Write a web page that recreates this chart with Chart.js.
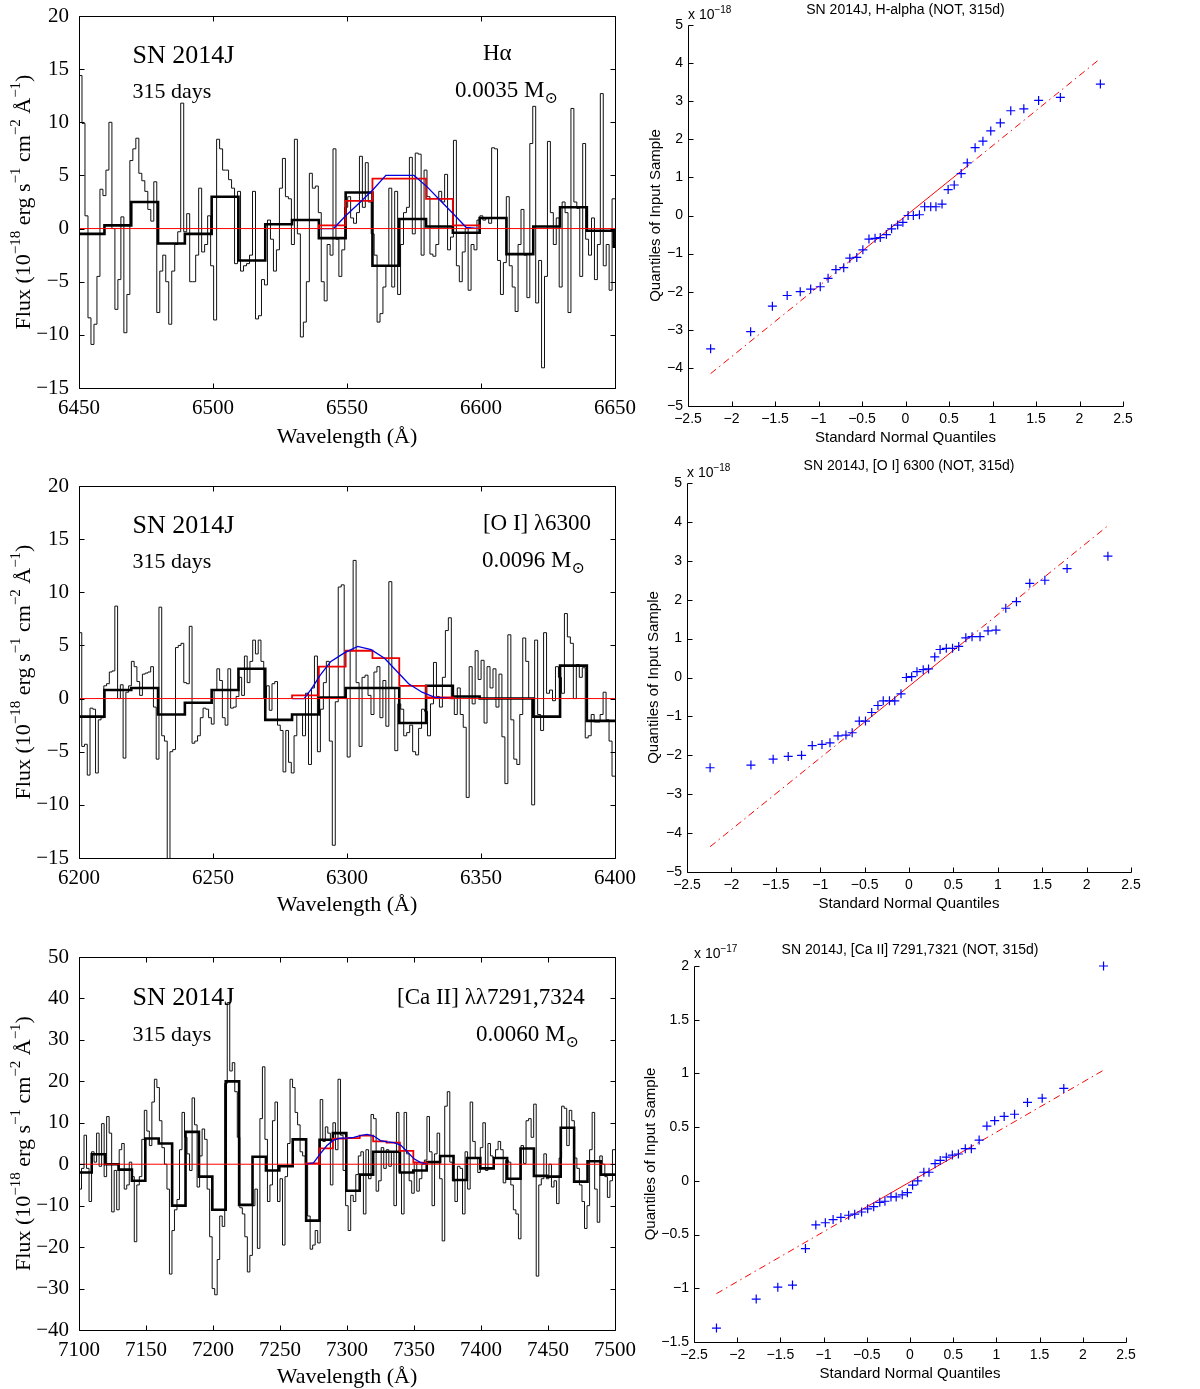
<!DOCTYPE html>
<html>
<head>
<meta charset="utf-8">
<script src="https://cdn.jsdelivr.net/npm/chart.js@4.4.1/dist/chart.umd.min.js"></script>
<style>
  body { margin: 0; background: #fff; }
  #page { position: relative; width: 1200px; height: 1389px; overflow: hidden; background: #fff; }
  canvas { position: absolute; }
</style>
</head>
<body>
<div id="page">
  <canvas id="haSpec" width="650" height="460" style="left:0;top:0"></canvas>
  <canvas id="oiSpec" width="650" height="460" style="left:0;top:470px"></canvas>
  <canvas id="caSpec" width="650" height="454" style="left:0;top:935px"></canvas>
  <canvas id="haQQ" width="570" height="450" style="left:630px;top:0"></canvas>
  <canvas id="oiQQ" width="570" height="480" style="left:630px;top:450px"></canvas>
  <canvas id="caQQ" width="570" height="454" style="left:630px;top:935px"></canvas>
</div>
<script>
// ---------- H-alpha window (6450-6650 A), flux in 1e-18 ----------
const haThinA = [14.4, 9.9, 1.2, -8.4, -10.9, -9.0, -4.5, 3.7, 3.1, 5.5, 10.0, 0.0, -7.6, -4.8, 1.1, -9.8, -6.2, 6.4, 7.5, 8.5,
  5.2, 4.5, 3.5, 1.8, 0.7, 4.4, -7.9, -4.0, -2.5, -5.0, -9.0, -4.0, -1.5, -0.3, 11.8, -0.3, 1.4, -5.0, -5.0, -2.5,
  3.8, -2.2, -1.5, 1.2, -3.5, -8.6, 8.4, 7.5, 5.5, 5.5, 4.6, 3.8, -3.3, 3.5, -4.0, -3.5, -3.3, -2.5, 3.5, -8.5,
  -8.2, -4.8, -5.3, 0.8, -1.0, -4.0, -2.0, 3.8, 6.6, 3.0, 2.8, -1.5, 8.4, -0.5, -10.2, -8.8, -5.0, 5.2, 3.8, 4.0];
const haThinB = [1.5, -5.0, -6.8, -1.5, -2.5, 7.5, -1.0, -4.5, -2.0, 2.0, 3.0, 1.0, 0.5, 1.5, 6.8, 2.0, 6.2, 2.5, -0.5, -2.5,
  -8.8, -8.0, -5.5, -3.5, 3.8, -5.5, 3.5, -6.2, -1.5, 1.5, 2.0, 6.7, -0.5, 7.1, 7.0, -2.5, 5.5, 3.0, -2.4, -2.6,
  -1.5, 3.5, 2.5, 5.1, -2.0, -0.8, 8.3, -3.5, -5.0, -2.2, 0.0, -5.8, -1.5, -2.0, 0.8, 1.2, 0.8, 1.0, 0.5, 7.6,
  7.5, -3.0, -6.2, -3.2, 3.0, -3.5, -5.5, -7.8, -1.5, 1.8, -2.5, -6.5, 8.0, 11.5, -7.0, -3.0, -13.1, -4.5, 8.2, 1.5,
  -1.5, 1.0, -5.5, 2.5, 1.5, -7.9, 11.3, 2.5, 1.9, -4.5, 8.0, -1.0, -2.5, 1.0, -4.8, -1.5, 12.7, -3.5, -1.5, -5.8, 2.8];
const haBinEdges = [6450, 6459.5, 6469.5, 6479.5, 6489.5, 6499.5, 6509.5, 6519.5, 6529.5, 6539.5, 6549.5,
  6559.5, 6569.5, 6579.5, 6589.5, 6599.5, 6609.5, 6619.5, 6629.5, 6639.5, 6649.5, 6650];
const haBinFlux = [-0.5, 0.3, 2.5, -1.4, -0.5, 3.0, -3.0, 0.4, 0.8, -0.9, 3.4, -3.5, 0.9, 0.2, -0.4, 1.0, -2.4, 0.2, 2.0, -0.2, -1.7];
const haModelEdges = [6539.5, 6549.5, 6559.5, 6569.5, 6579.5, 6589.5, 6599.5];
const haModelFlux = [0.3, 2.6, 4.7, 4.7, 2.8, 0.3];
const haSmoothX = [6539.5, 6545, 6549.5, 6555, 6559.5, 6564.5, 6575, 6580, 6585, 6590, 6594.5, 6599.5];
const haSmoothY = [0, 0, 1.2, 2.5, 3.6, 5.0, 5.0, 3.9, 2.6, 1.3, 0.1, 0];

// ---------- [O I] 6300 window (6200-6400 A) ----------
const oiThinA = [6.2, -4.5, -4.3, -7.2, -0.9, -1.0, -7.0, -2.0, -1.8, 1.2, 1.4, 2.5, 2.6, 8.7, 0.0, 1.3, -5.6, 0.6, 1.2, 3.5,
  3.0, 1.6, 0.3, 2.3, 2.4, 2.5, 3.0, -0.8, -5.7, 8.6, -3.5, -4.0, -16.0, -5.0, -4.8, 4.8, 5.0, 5.2, 1.5, 1.4,
  6.8, -4.2, -4.0, -3.5, -1.8, -0.9, -1.0, -1.8, -2.4, 0.8, 2.8, 1.7, -1.8, -2.5, 2.8, -0.9, -0.8, 0.2, 2.0, 0.3,
  4.0, 1.5, 3.5, 5.5, 4.2, 5.5, 3.5, 0.0, 1.2, -1.1, 1.4, 1.6, -2.5, -3.0, -6.9, -3.0, -6.0, -7.0, -3.5, -1.5];
const oiThinB = [-1.5, -3.5, 0.5, -6.2, 1.0, 4.0, -5.0, -1.0, 1.5, 3.5, -4.0, -13.8, -0.3, 10.5, 10.7, 0.0, -5.5, 4.5, 13.0, 1.5,
  -4.5, 2.0, 2.2, 0.3, -1.5, 2.5, 3.0, -1.8, 1.7, -2.6, 11.0, 1.0, -4.9, -0.5, -1.0, -3.5, -3.2, -2.5, -5.0, -5.3,
  -2.8, -1.0, -1.2, -3.5, -0.5, 3.4, 0.2, -0.8, 2.0, 6.4, 7.6, 0.0, -1.5, 1.0, -1.5, -2.7, -9.3, 3.0, -0.5, 4.5,
  1.8, 3.6, -2.3, 3.0, 1.0, 2.8, -0.8, 2.3, -3.6, -8.0, 6.0, -2.0, -5.7, -6.2, -1.5, 5.7, 3.5, 0.0, -10.0, 5.5,
  -1.5, -3.0, 6.2, 0.5, 0.8, -0.2, 3.0, 2.0, 0.5, 8.0, 5.8, 5.2, 0.0, 3.2, 2.0, 2.9, -3.7, -3.5, -1.5, -2.2,
  -2.2, -1.5, 0.6, -2.0, -4.0, -7.3];
const oiBinEdges = [6200, 6209.5, 6219.5, 6229.5, 6239.5, 6249.5, 6259.5, 6269.5, 6279.5, 6289.5, 6299.5,
  6309.5, 6319.5, 6329.5, 6339.5, 6349.5, 6359.5, 6369.5, 6379.5, 6389.5, 6400];
const oiBinFlux = [-1.7, 0.8, 1.0, -1.5, -0.4, 0.8, 2.8, -2.0, -1.5, 0.1, 1.0, 1.0, -2.3, 1.2, 0.2, 0.0, 0.0, -1.7, 3.1, -2.1];
const oiModelEdges = [6279.5, 6289.5, 6299.5, 6309.5, 6319.5, 6329.5, 6339.5];
const oiModelFlux = [0.3, 3.0, 4.5, 3.8, 1.2, 0.1];
const oiSmoothX = [6279.5, 6284, 6287, 6290, 6294, 6299, 6304, 6309, 6314, 6317, 6320, 6323, 6328, 6333, 6339.5];
const oiSmoothY = [0, 0, 1.0, 2.2, 3.5, 4.3, 4.9, 4.6, 3.8, 3.0, 2.2, 1.4, 0.6, 0.1, 0];

// ---------- [Ca II] 7291,7324 window (7100-7500 A) ----------
const caThinA = [-6.0, -1.0, 7.0, -1.0, -9.0, 3.0, 0.5, 7.5, -0.5, 9.8, -3.0, 11.5, 7.5, -11.5, -1.5, -11.0, 3.5, 5.0, -6.0, -5.0,
  0.5, -3.0, -18.7, -5.0, -3.0, 6.0, 13.0, 8.0, 4.5, 15.0, 20.5, 18.5, 10.5, 4.0, 0.0, -6.0, -26.5, -16.0, -11.0, -8.5,
  3.5, 12.5, 6.5, 2.5, -1.5, 16.0, 9.5, -5.5, 2.0, 8.5, 6.0, -6.0, -17.5, -30.0, -31.5, -23.0, -12.5, -15.0, 19.5, 39.0,
  22.5, 24.5, 17.5, 6.5, -10.5, -12.0, -17.5, -26.0, -22.0, -10.0, -6.0, -20.3, 11.0, 23.5, 6.0, -9.0, -5.0, 10.5, 15.0, -9.0,
  -3.5, -19.5, -3.0, 5.0, 20.5, 18.5, 12.5, 9.5, 3.0, 2.0, 0.0, -12.5, -20.5, -19.5, -16.0, -19.0];
const caThinB = [15.6, 5.5, 9.0, 7.5, -5.0, 10.0, 3.5, 20.5, 7.0, -1.5, -10.0, -16.0, -7.5, -9.0, -2.5, 2.0, 3.0, -12.0, 3.5, -3.5,
  12.0, 11.0, -6.5, -4.0, 4.0, -1.0, 3.5, -0.5, 3.0, -10.0, 12.5, -2.0, -12.0, 12.5, 2.5, -4.0, -7.0, 0.5, -6.5, -3.5,
  0.0, 1.0, 11.5, 3.0, -10.0, 2.5, 7.5, -3.5, -18.5, 14.0, 17.5, 0.5, -4.0, -9.0, -0.5, -1.0, -12.0, 3.0, -6.0, 15.0,
  5.5, 1.5, -2.0, 4.0, 10.0, -1.5, 5.0, 2.0, 1.5, 3.5, 5.5, 3.5, -4.5, 1.0, 0.5, -5.0, -11.0, -12.0, -18.0, 4.5,
  0.2, 10.5, 11.0, 6.5, 14.5, -27.0, -5.0, -3.5, 2.5, -3.5, 0.0, -5.5, -4.0, -9.5, 1.5, 14.0, 13.5, 4.5, 13.0, 10.5,
  1.5, -1.0, -5.0, -9.0, -15.5, -10.0, 3.5, 12.5, -6.0, -14.0, 2.0, 0.0, -3.0, -8.0, -4.0, 3.5];
const caBinEdges = [7100, 7109.5, 7119.5, 7129.5, 7139.5, 7149.5, 7159.5, 7169.5, 7179.5, 7189.5, 7199.5,
  7209.5, 7219.5, 7229.5, 7239.5, 7249.5, 7259.5, 7269.5, 7279.5, 7289.5, 7299.5,
  7309.5, 7319.5, 7329.5, 7339.5, 7349.5, 7359.5, 7369.5, 7379.5, 7389.5, 7399.5,
  7409.5, 7419.5, 7429.5, 7439.5, 7449.5, 7459.5, 7469.5, 7479.5, 7489.5, 7500];
const caBinFlux = [-2.0, 2.4, 0.0, -1.3, -4.0, 6.2, 5.0, -10.0, 7.8, -3.0, -11.0, 20.0, -9.8, 1.8, -1.5, -0.5, 6.0, -13.6, 5.9, 7.5,
  -6.4, -2.5, 3.0, 3.0, -2.0, -1.5, 0.5, 2.0, -3.8, 1.5, -1.0, 1.5, -3.5, 3.8, -2.8, -3.0, 8.8, -4.2, 0.7, -2.5];
const caModelEdges = [7269.5, 7279.5, 7289.5, 7299.5, 7309.5, 7319.5, 7329.5, 7339.5, 7349.5, 7359.5];
const caModelFlux = [0.2, 3.8, 6.2, 6.3, 6.9, 5.5, 5.2, 3.2, 0.4];
const caSmoothX = [7269.5, 7275, 7280, 7285, 7290, 7295, 7300, 7305, 7310, 7315, 7320, 7325, 7330, 7335, 7340, 7345, 7350, 7355, 7359.5];
const caSmoothY = [0, 0.3, 2.5, 4.5, 5.8, 6.3, 6.3, 6.5, 6.9, 7.2, 6.8, 5.7, 5.4, 5.2, 4.6, 3.0, 1.3, 0.4, 0];

// ---------- Q-Q plots ----------
const qqX = [-2.24, -1.78, -1.53, -1.36, -1.21, -1.09, -0.98, -0.89, -0.80, -0.71, -0.64, -0.56, -0.49, -0.42, -0.35, -0.29, -0.22, -0.16, -0.09, -0.03,
  0.03, 0.09, 0.16, 0.22, 0.29, 0.35, 0.42, 0.49, 0.56, 0.64, 0.71, 0.80, 0.89, 0.98, 1.09, 1.21, 1.36, 1.53, 1.78, 2.24];
const haQQ = [-3.5, -3.05, -2.38, -2.1, -2.0, -1.93, -1.87, -1.65, -1.42, -1.37, -1.12, -1.1, -0.9, -0.62, -0.6, -0.58, -0.5, -0.35, -0.25, -0.18,
  0.0, 0.0, 0.02, 0.23, 0.23, 0.23, 0.3, 0.68, 0.8, 1.1, 1.38, 1.78, 1.95, 2.22, 2.43, 2.75, 2.8, 3.02, 3.1, 3.45];
const oiQQ = [-2.32, -2.25, -2.1, -2.03, -2.0, -1.75, -1.72, -1.68, -1.5, -1.48, -1.42, -1.12, -1.12, -0.9, -0.72, -0.6, -0.6, -0.6, -0.42, 0.0,
  0.02, 0.15, 0.2, 0.22, 0.53, 0.72, 0.75, 0.75, 0.8, 1.02, 1.05, 1.05, 1.2, 1.22, 1.78, 1.95, 2.42, 2.5, 2.8, 3.12];
const caQQ = [-1.37, -1.1, -0.99, -0.97, -0.63, -0.41, -0.39, -0.36, -0.34, -0.32, -0.31, -0.29, -0.26, -0.24, -0.2, -0.19, -0.15, -0.15, -0.13, -0.11,
  -0.04, 0.0, 0.08, 0.08, 0.16, 0.19, 0.22, 0.24, 0.25, 0.3, 0.3, 0.38, 0.51, 0.56, 0.6, 0.62, 0.73, 0.77, 0.86, 2.0];
const fitX = [-2.24, -0.67, 0.67, 2.24];
const haFitY = [-4.15, -1.25, 1.22, 4.12];
const oiFitY = [-4.35, -1.46, 1.01, 3.9];
const caFitY = [-1.05, -0.32, 0.30, 1.03];

const serif = '"Liberation Serif", "DejaVu Serif", serif';
const sans = '"Liberation Sans", Arial, sans-serif';
Chart.defaults.color = '#000';
Chart.defaults.animation = false;

function minus(v) {
  return String(Math.round(v * 100) / 100).replace('-', '\u2212');
}

// spectrum pieces: each array spans [lo, hi] on an even pixel grid
function thinPoints(pieces) {
  const pts = [];
  pieces.forEach(([lo, hi, vals]) => {
    const step = (hi - lo) / vals.length;
    vals.forEach((v, i) => pts.push({ x: lo + i * step, y: v }));
    pts.push({ x: hi, y: vals[vals.length - 1] });
  });
  return pts;
}
function binPoints(edges, vals, closed) {
  const pts = vals.map((v, i) => ({ x: edges[i], y: v }));
  pts.push({ x: edges[edges.length - 1], y: vals[vals.length - 1] });
  if (closed) {
    pts.unshift({ x: edges[0], y: 0 });
    pts.push({ x: edges[edges.length - 1], y: 0 });
  }
  return pts;
}
function xyPoints(xs, ys) {
  return xs.map((x, i) => ({ x: x, y: ys[i] }));
}

function drawRich(ctx, it, x, y) {
  const size = it.size, fam = it.family;
  const small = Math.round(size * 0.68);
  const parts = it.parts.map(p => typeof p === 'string' ? { t: p, k: '' } : { t: p[0], k: p[1] });
  ctx.save();
  ctx.translate(x, y);
  if (it.rotate) ctx.rotate(-Math.PI / 2);
  ctx.textBaseline = 'alphabetic';
  ctx.fillStyle = '#000';
  let w = 0;
  parts.forEach(p => { ctx.font = (p.k ? small : size) + 'px ' + fam; p.w = ctx.measureText(p.t).width; w += p.w; });
  let cx = it.align === 'center' ? -w / 2 : (it.align === 'right' ? -w : 0);
  const base = size * 0.35;
  parts.forEach(p => {
    ctx.font = (p.k ? small : size) + 'px ' + fam;
    const dy = p.k === 'sup' ? -size * 0.42 : (p.k === 'sub' ? size * 0.25 : 0);
    ctx.fillText(p.t, cx, base + dy);
    cx += p.w;
  });
  ctx.restore();
}

// texts placed either in data units (at) or relative to the plot area (area)
function textPlugin(items) {
  return {
    id: 'panelText',
    afterDraw(chart) {
      const a = chart.chartArea, xs = chart.scales.x, ys = chart.scales.y;
      items.forEach(it => {
        let px, py;
        if (it.at) {
          px = xs.getPixelForValue(it.at[0]);
          py = ys.getPixelForValue(it.at[1]);
        } else {
          const ax = it.area[0], dx = it.area[1], ay = it.area[2], dy = it.area[3];
          px = (ax === 'l' ? a.left : (ax === 'r' ? a.right : (a.left + a.right) / 2)) + dx;
          py = (ay === 't' ? a.top : (ay === 'b' ? a.bottom : (a.top + a.bottom) / 2)) + dy;
        }
        drawRich(chart.ctx, it, px, py);
      });
    }
  };
}

// frame and inward tick marks
function framePlugin(box, len) {
  return {
    id: 'frame',
    afterDatasetsDraw(chart) {
      const ctx = chart.ctx, a = chart.chartArea;
      const L = Math.round(a.left) + 0.5, R = Math.round(a.right) + 0.5;
      const T = Math.round(a.top) + 0.5, B = Math.round(a.bottom) + 0.5;
      ctx.save();
      ctx.strokeStyle = '#000';
      ctx.lineWidth = 1;
      ctx.beginPath();
      if (box) {
        ctx.rect(L, T, R - L, B - T);
      } else {
        ctx.moveTo(L, T); ctx.lineTo(L, B); ctx.lineTo(R, B);
      }
      chart.scales.x.ticks.forEach(t => {
        const p = Math.round(chart.scales.x.getPixelForValue(t.value)) + 0.5;
        ctx.moveTo(p, B); ctx.lineTo(p, B - len);
        if (box) { ctx.moveTo(p, T); ctx.lineTo(p, T + len); }
      });
      chart.scales.y.ticks.forEach(t => {
        const p = Math.round(chart.scales.y.getPixelForValue(t.value)) + 0.5;
        ctx.moveTo(L, p); ctx.lineTo(L + len, p);
        if (box) { ctx.moveTo(R, p); ctx.lineTo(R - len, p); }
      });
      ctx.stroke();
      ctx.restore();
    }
  };
}

function fixedScale(size, vertical) {
  return s => {
    if (vertical) { s.width = size; s.paddingTop = 0; s.paddingBottom = 0; }
    else { s.height = size; s.paddingLeft = 0; s.paddingRight = 0; }
  };
}

function spectrum(id, c) {
  new Chart(document.getElementById(id), {
    type: 'line',
    data: {
      datasets: [
        { data: [{ x: c.lo, y: 0 }, { x: c.hi, y: 0 }], borderColor: '#ff0000', borderWidth: 1, order: 0 },
        { data: xyPoints(c.smooth[0], c.smooth[1]), borderColor: '#0000e0', borderWidth: 1.3, order: 1 },
        { data: binPoints(c.model[0], c.model[1], true), stepped: true, borderColor: '#ee0000', borderWidth: 1.8, order: 2 },
        { data: binPoints(c.bins[0], c.bins[1], false), stepped: true, borderColor: '#000', borderWidth: 2.6, order: 3 },
        { data: thinPoints(c.thin), stepped: true, borderColor: '#111', borderWidth: 1, order: 4 }
      ]
    },
    options: {
      responsive: false,
      parsing: false,
      elements: { point: { radius: 0 }, line: { tension: 0, fill: false } },
      layout: { padding: { top: c.pad[0], right: c.pad[1], bottom: 0, left: 0 } },
      scales: {
        x: {
          type: 'linear', min: c.lo, max: c.hi,
          grid: { display: false, drawTicks: false }, border: { display: false },
          ticks: { stepSize: 50, padding: 8, callback: v => minus(v), font: { family: serif, size: 21 } },
          afterFit: fixedScale(c.pad[3], false)
        },
        y: {
          type: 'linear', min: c.ymin, max: c.ymax,
          grid: { display: false, drawTicks: false }, border: { display: false },
          ticks: { stepSize: c.ystep, padding: 10, callback: v => minus(v), font: { family: serif, size: 21 } },
          afterFit: fixedScale(c.pad[2], true)
        }
      },
      plugins: { legend: { display: false }, tooltip: { enabled: false } }
    },
    plugins: [framePlugin(true, 5), textPlugin(c.texts)]
  });
}

function qqplot(id, c) {
  new Chart(document.getElementById(id), {
    type: 'scatter',
    data: {
      datasets: [
        {
          data: xyPoints(qqX, c.y), pointStyle: 'cross', pointRadius: 4.5,
          borderColor: '#0000ff', borderWidth: 1.2, order: 0, clip: false
        },
        {
          data: xyPoints(fitX, c.fit), showLine: true, pointRadius: 0,
          borderColor: '#ff0000', borderWidth: 1, order: 1,
          segment: { borderDash: ctx => ctx.p0DataIndex === 1 ? [] : [7, 4, 1.5, 4] }
        }
      ]
    },
    options: {
      responsive: false,
      parsing: false,
      layout: { padding: { top: c.pad[0], right: c.pad[1], bottom: 0, left: 0 } },
      scales: {
        x: {
          type: 'linear', min: -2.5, max: 2.5,
          grid: { display: false, drawTicks: false }, border: { display: false },
          ticks: { stepSize: 0.5, padding: 5, callback: v => minus(v), font: { family: sans, size: 14 } },
          afterFit: fixedScale(c.pad[3], false)
        },
        y: {
          type: 'linear', min: c.ymin, max: c.ymax,
          grid: { display: false, drawTicks: false }, border: { display: false },
          ticks: { stepSize: c.ystep, padding: 5, callback: v => minus(v), font: { family: sans, size: 14 } },
          afterFit: fixedScale(c.pad[2], true)
        }
      },
      plugins: { legend: { display: false }, tooltip: { enabled: false } }
    },
    plugins: [framePlugin(false, 5), textPlugin([
      { parts: [c.title], size: 14, family: sans, align: 'center', area: ['c', 0, 't', c.titleDy] },
      { parts: ['x 10', [c.exp, 'sup']], size: 14, family: sans, align: 'left', area: ['l', 0, 't', c.expDy] },
      { parts: ['Quantiles of Input Sample'], size: 15, family: sans, align: 'center', rotate: true, area: ['l', c.ylabDx, 'm', 0] },
      { parts: ['Standard Normal Quantiles'], size: 15, family: sans, align: 'center', area: ['c', 0, 'b', 31] }
    ])]
  });
}

const fluxLabel = ['Flux (10', ['\u221218', 'sup'], ' erg s', ['\u22121', 'sup'], ' cm', ['\u22122', 'sup'], ' \u00c5', ['\u22121', 'sup'], ')'];
function specTexts(lab, mass, pos, xlabDy) {
  return [
    { parts: fluxLabel, size: 22, family: serif, align: 'center', rotate: true, area: ['l', -57, 'm', 0] },
    { parts: ['Wavelength (\u00c5)'], size: 22, family: serif, align: 'center', area: ['c', 0, 'b', xlabDy] },
    { parts: ['SN 2014J'], size: 26, family: serif, align: 'left', at: pos[0] },
    { parts: ['315 days'], size: 22, family: serif, align: 'left', at: pos[1] },
    { parts: lab, size: 23, family: serif, align: 'left', at: pos[2] },
    { parts: [mass + ' M', ['\u2299', 'sub']], size: 23, family: serif, align: 'left', at: pos[3] }
  ];
}

spectrum('haSpec', {
  lo: 6450, hi: 6650, ymin: -15, ymax: 20, ystep: 5, pad: [16, 35, 79, 72],
  thin: [[6450, 6539.3, haThinA], [6539.3, 6650, haThinB]],
  bins: [haBinEdges, haBinFlux], model: [haModelEdges, haModelFlux], smooth: [haSmoothX, haSmoothY],
  texts: specTexts(['H\u03b1'], '0.0035', [[6470, 16.4], [6470, 13.0], [6600.7, 16.6], [6590.3, 13.1]], 47)
});
spectrum('oiSpec', {
  lo: 6200, hi: 6400, ymin: -15, ymax: 20, ystep: 5, pad: [16, 35, 79, 72],
  thin: [[6200, 6282.3, oiThinA], [6282.3, 6400, oiThinB]],
  bins: [oiBinEdges, oiBinFlux], model: [oiModelEdges, oiModelFlux], smooth: [oiSmoothX, oiSmoothY],
  texts: specTexts(['[O I] \u03bb6300'], '0.0096', [[6220, 16.4], [6220, 13.0], [6350.7, 16.6], [6350.4, 13.1]], 45)
});
spectrum('caSpec', {
  lo: 7100, hi: 7500, ymin: -40, ymax: 50, ystep: 10, pad: [22, 35, 79, 59],
  thin: [[7100, 7280, caThinA], [7280, 7500, caThinB]],
  bins: [caBinEdges, caBinFlux], model: [caModelEdges, caModelFlux], smooth: [caSmoothX, caSmoothY],
  texts: specTexts(['[Ca II] \u03bb\u03bb7291,7324'], '0.0060', [[7140, 40.6], [7140, 31.6], [7337.3, 40.6], [7396.3, 31.6]], 45)
});

qqplot('haQQ', {
  y: haQQ, fit: haFitY, ymin: -5, ymax: 5, ystep: 1, pad: [25, 77, 58, 44],
  title: 'SN 2014J, H-alpha (NOT, 315d)', exp: '\u221218', titleDy: -16, expDy: -11, ylabDx: -33
});
qqplot('oiQQ', {
  y: oiQQ, fit: oiFitY, ymin: -5, ymax: 5, ystep: 1, pad: [33, 69, 57, 58],
  title: 'SN 2014J, [O I] 6300 (NOT, 315d)', exp: '\u221218', titleDy: -18, expDy: -11, ylabDx: -34
});
qqplot('caQQ', {
  y: caQQ, fit: caFitY, ymin: -1.5, ymax: 2, ystep: 0.5, pad: [31, 74, 64, 47],
  title: 'SN 2014J, [Ca II] 7291,7321 (NOT, 315d)', exp: '\u221217', titleDy: -17, expDy: -13, ylabDx: -44
});
</script>
</body>
</html>
